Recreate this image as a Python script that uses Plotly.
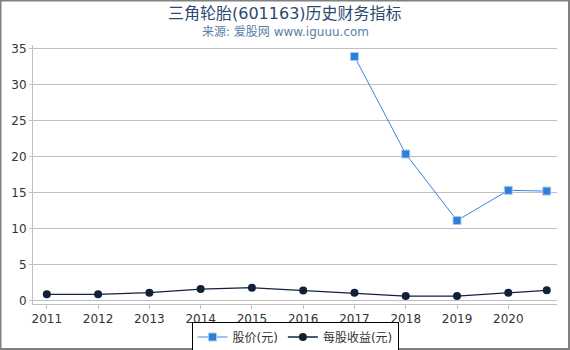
import plotly.graph_objects as go

years = [2011, 2012, 2013, 2014, 2015, 2016, 2017, 2018, 2019, 2020, 2020.75]
price = [None, None, None, None, None, None, 33.9, 20.35, 11.1, 15.3, 15.2]
eps = [0.84, 0.85, 1.07, 1.58, 1.77, 1.38, 1.07, 0.6, 0.6, 1.07, 1.4]
tick_years = [2011, 2012, 2013, 2014, 2015, 2016, 2017, 2018, 2019, 2020]
tick_labels = [str(y) for y in tick_years]
y_ticks = [0, 5, 10, 15, 20, 25, 30, 35]

FONT = "DejaVu Sans, Noto Sans CJK SC, sans-serif"

fig = go.Figure()
fig.add_trace(go.Scatter(
    x=years, y=price, name="股价(元)", mode="lines+markers",
    line=dict(color="#3a86dc", width=1),
    marker=dict(symbol="square", size=8, color="#2f7fd8",
                line=dict(color="#a8cbf0", width=1)),
    connectgaps=False,
))
fig.add_trace(go.Scatter(
    x=years, y=eps, name="每股收益(元)", mode="lines+markers",
    line=dict(color="#13233d", width=1.3),
    marker=dict(symbol="circle", size=8, color="#0f2038"),
))

W, H = 570, 350
ml, mr, mt, mb = 33, 13, 45, 46
pw, ph = W - ml - mr, H - mt - mb

def px(x):
    return (x - ml) / pw

def py(y):
    return (H - mb - y) / ph

fig.update_layout(
    width=W, height=H,
    margin=dict(l=ml, r=mr, t=mt, b=mb, autoexpand=False),
    paper_bgcolor="white", plot_bgcolor="white",
    font=dict(family=FONT, size=12, color="#333333"),
    showlegend=True,
    legend=dict(orientation="h", x=0.5, xanchor="center",
                y=py(337), yanchor="middle",
                bordercolor="#000000", borderwidth=1,
                font=dict(size=12, color="#333333"),
                itemwidth=30, tracegroupgap=0),
    xaxis=dict(range=[2010.73, 2020.95], tickvals=tick_years, ticktext=tick_labels,
               showgrid=False, zeroline=False, showline=True,
               linecolor="#c0c0c0", linewidth=1,
               ticks="outside", ticklen=4, tickcolor="#c0c0c0",
               tickfont=dict(size=12, color="#333333")),
    yaxis=dict(range=[-0.5, 35.5], tickvals=y_ticks,
               showgrid=True, gridcolor="#c0c0c0", gridwidth=1,
               zeroline=False, showline=True,
               linecolor="#c0c0c0", linewidth=1,
               ticks="outside", ticklen=3, tickcolor="#c0c0c0",
               tickfont=dict(size=12, color="#333333")),
    annotations=[
        dict(text="三角轮胎(601163)历史财务指标", xref="paper", yref="paper",
             x=px(285), y=py(13), xanchor="center", yanchor="middle",
             showarrow=False, font=dict(size=16, color="#2b4a6f", family=FONT)),
        dict(text="来源: 爱股网 www.iguuu.com", xref="paper", yref="paper",
             x=px(285), y=py(32), xanchor="center", yanchor="middle",
             showarrow=False, font=dict(size=12, color="#5a7ea8", family=FONT)),
    ],
    shapes=[
        dict(type="rect", xref="paper", yref="paper",
             x0=px(0.5), x1=px(569), y0=py(349), y1=py(0.5),
             line=dict(color="#808080", width=2), fillcolor="rgba(0,0,0,0)",
             layer="above"),
    ],
)

fig.write_html("out.html")
